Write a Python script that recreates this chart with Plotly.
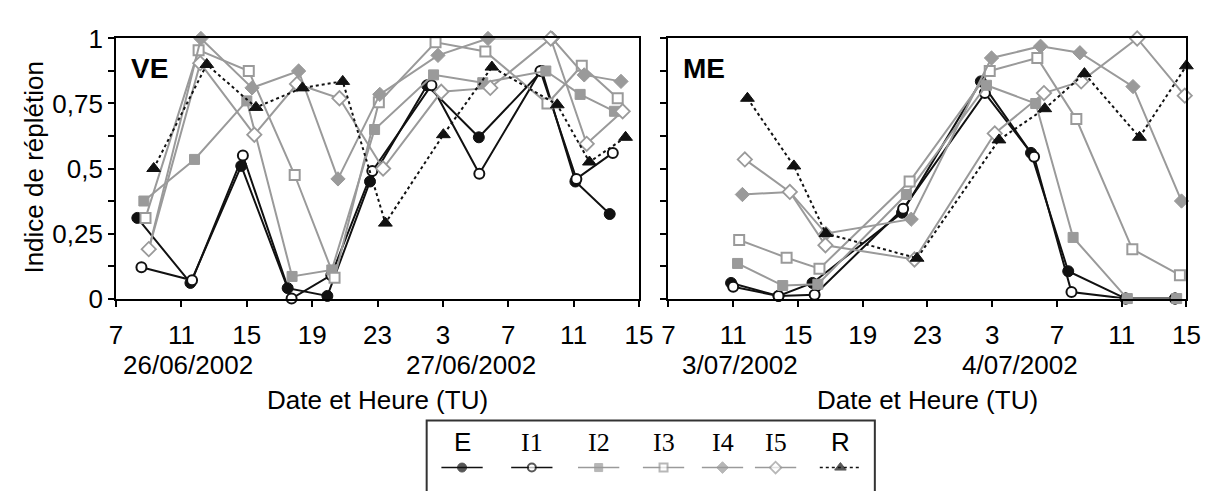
import plotly.graph_objects as go

# ---- Data: hours since 00:00 of the first day (7 -> 39 = 15h next day) ----
series_names = ["E", "I1", "I2", "I3", "I4", "I5", "R"]

# Panel VE (26-27/06/2002)
ve_E_t = [8.3, 11.55, 14.66, 17.5, 19.93, 22.54, 26.03, 29.2, 33.06, 35.11, 37.21]
ve_E_v = [0.31, 0.06, 0.51, 0.04, 0.01, 0.45, 0.82, 0.62, 0.875, 0.45, 0.325]
ve_I1_t = [8.55, 11.65, 14.76, 17.74, 20.17, 22.68, 26.3, 29.23, 32.97, 35.17, 37.4]
ve_I1_v = [0.12, 0.07, 0.55, 0.0, 0.09, 0.49, 0.82, 0.48, 0.875, 0.46, 0.56]
ve_I2_t = [8.7, 11.8, 15.0, 17.77, 20.2, 22.82, 26.43, 29.44, 33.3, 35.4, 37.5]
ve_I2_v = [0.375, 0.535, 0.76, 0.085, 0.11, 0.65, 0.86, 0.83, 0.875, 0.785, 0.72]
ve_I3_t = [8.8, 12.05, 15.12, 17.93, 20.37, 23.08, 26.55, 29.6, 33.4, 35.5, 37.7]
ve_I3_v = [0.31, 0.955, 0.875, 0.475, 0.08, 0.755, 0.985, 0.95, 0.75, 0.895, 0.77]
ve_I4_t = [9.0, 12.19, 15.32, 18.17, 20.58, 23.14, 26.7, 29.76, 33.7, 35.65, 37.9]
ve_I4_v = [0.19, 1.0, 0.81, 0.875, 0.46, 0.785, 0.935, 1.0, 1.0, 0.86, 0.835]
ve_I5_t = [9.0, 12.15, 15.46, 18.07, 20.67, 23.34, 26.9, 29.9, 33.6, 35.8, 38.0]
ve_I5_v = [0.19, 0.905, 0.63, 0.825, 0.77, 0.50, 0.795, 0.81, 1.0, 0.595, 0.72]
ve_R_t = [9.3, 12.55, 15.56, 18.4, 20.87, 23.48, 27.03, 30.0, 34.0, 35.97, 38.18]
ve_R_v = [0.50, 0.90, 0.735, 0.81, 0.835, 0.29, 0.63, 0.89, 0.745, 0.525, 0.62]

# Panel ME (3-4/07/2002)
me_E_t = [10.87, 13.8, 15.9, 21.43, 26.3, 29.4, 31.7, 35.25, 38.3]
me_E_v = [0.06, 0.01, 0.06, 0.33, 0.835, 0.56, 0.105, 0.0, 0.0]
me_I1_t = [11.0, 13.8, 16.03, 21.5, 26.55, 29.59, 31.9, 35.25, 38.3]
me_I1_v = [0.045, 0.01, 0.015, 0.345, 0.79, 0.545, 0.025, 0.0, 0.0]
me_I2_t = [11.27, 14.06, 16.23, 21.7, 26.65, 29.69, 32.0, 35.35, 38.4]
me_I2_v = [0.135, 0.05, 0.055, 0.40, 0.82, 0.75, 0.235, 0.0, 0.0]
me_I3_t = [11.37, 14.3, 16.33, 21.9, 26.85, 29.79, 32.2, 35.66, 38.6]
me_I3_v = [0.225, 0.157, 0.115, 0.45, 0.875, 0.925, 0.69, 0.19, 0.09]
me_I4_t = [11.57, 14.5, 16.73, 22.0, 26.96, 29.99, 32.42, 35.7, 38.7]
me_I4_v = [0.40, 0.41, 0.25, 0.305, 0.925, 0.97, 0.945, 0.815, 0.375]
me_I5_t = [11.72, 14.5, 16.7, 22.2, 27.16, 30.2, 32.5, 35.96, 38.9]
me_I5_v = [0.535, 0.41, 0.205, 0.15, 0.635, 0.79, 0.835, 1.0, 0.78]
me_R_t = [11.88, 14.75, 16.73, 22.36, 27.42, 30.25, 32.7, 36.1, 39.0]
me_R_v = [0.77, 0.51, 0.25, 0.155, 0.61, 0.73, 0.865, 0.62, 0.895]

x_tickvals = [7, 11, 15, 19, 23, 27, 31, 35, 39]
x_ticktext = ["7", "11", "15", "19", "23", "3", "7", "11", "15"]
y_tickvals = [0, 0.25, 0.5, 0.75, 1]
y_ticktext = ["0", "0,25", "0,5", "0,75", "1"]
ve_dates = ["26/06/2002", "27/06/2002"]
me_dates = ["3/07/2002", "4/07/2002"]
date_pos = [11.4, 28.7]

# ---- Styles ----
W, H = 1223, 491
BLACK = "#111111"
GRAY = "#9a9a9a"
FONT = "Liberation Sans, Arial, sans-serif"
SERIF = "Liberation Serif, Times New Roman, serif"

styles = {
    "E": dict(line=dict(color=BLACK, width=2),
              marker=dict(symbol="circle", size=11, color=BLACK, line=dict(color=BLACK, width=1))),
    "I1": dict(line=dict(color=BLACK, width=2),
               marker=dict(symbol="circle", size=10, color="white", line=dict(color=BLACK, width=2))),
    "I2": dict(line=dict(color=GRAY, width=2),
               marker=dict(symbol="square", size=10, color=GRAY, line=dict(color=GRAY, width=1))),
    "I3": dict(line=dict(color=GRAY, width=2),
               marker=dict(symbol="square", size=10, color="white", line=dict(color=GRAY, width=2))),
    "I4": dict(line=dict(color=GRAY, width=2),
               marker=dict(symbol="diamond", size=11, color=GRAY, line=dict(color=GRAY, width=1))),
    "I5": dict(line=dict(color=GRAY, width=2),
               marker=dict(symbol="diamond", size=11, color="white", line=dict(color=GRAY, width=1.8))),
    "R": dict(line=dict(color=BLACK, width=2, dash="dot"),
              marker=dict(symbol="triangle-up", size=12, color=BLACK, line=dict(color=BLACK, width=1))),
}

panels = {
    ("x", "y"): {
        "E": (ve_E_t, ve_E_v), "I1": (ve_I1_t, ve_I1_v), "I2": (ve_I2_t, ve_I2_v),
        "I3": (ve_I3_t, ve_I3_v), "I4": (ve_I4_t, ve_I4_v), "I5": (ve_I5_t, ve_I5_v),
        "R": (ve_R_t, ve_R_v),
    },
    ("x2", "y2"): {
        "E": (me_E_t, me_E_v), "I1": (me_I1_t, me_I1_v), "I2": (me_I2_t, me_I2_v),
        "I3": (me_I3_t, me_I3_v), "I4": (me_I4_t, me_I4_v), "I5": (me_I5_t, me_I5_v),
        "R": (me_R_t, me_R_v),
    },
}

fig = go.Figure()
for (xa, ya), data in panels.items():
    for name in series_names:
        t, v = data[name]
        st = styles[name]
        fig.add_trace(go.Scatter(
            x=t, y=v, mode="lines+markers", name=name, xaxis=xa, yaxis=ya,
            line=st["line"], marker=st["marker"], cliponaxis=False, showlegend=False,
        ))

# ---- Custom legend (box with label above each line sample) ----
leg_cx = [463, 534, 602, 668, 728, 782, 848]
leg_half = 21
leg_line_y = 482
leg_label_y = 455
for name, cx in zip(series_names, leg_cx):
    st = styles[name]
    m = dict(st["marker"])
    m["size"] = [0, max(m["size"] - 2, 8), 0]
    fig.add_trace(go.Scatter(
        x=[cx - leg_half, cx, cx + leg_half], y=[leg_line_y] * 3,
        mode="lines+markers", xaxis="x3", yaxis="y3",
        line=dict(color=st["line"]["color"], width=1.6, dash=st["line"].get("dash", "solid")),
        marker=m, cliponaxis=False, showlegend=False, hoverinfo="skip",
    ))
    fig.add_annotation(
        x=cx, y=leg_label_y, xref="x3", yref="y3", text=name, showarrow=False,
        font=dict(family=FONT if name in ("E", "R") else SERIF, size=26, color="black"),
        xanchor="center", yanchor="middle",
    )

fig.add_shape(type="rect", xref="paper", yref="paper",
              x0=427 / W, x1=883 / W, y0=-0.1, y1=1 - 432 / H,
              line=dict(color="#333333", width=2), fillcolor="rgba(0,0,0,0)")

# ---- Axes ----
plot_top, plot_bot = 25, 302
ydom = [1 - plot_bot / H, 1 - plot_top / H]
xdom_left = [111 / W, 643 / W]
xdom_right = [673 / W, 1200 / W]

xaxis_common = dict(
    range=[7, 39], tickmode="array", tickvals=x_tickvals, ticktext=x_ticktext,
    ticks="outside", ticklen=6, tickwidth=1.5, tickcolor="black",
    showline=True, linecolor="black", linewidth=2, mirror=True,
    showgrid=False, zeroline=False, ticklabelstandoff=6,
    tickfont=dict(family=FONT, size=26, color="black"), fixedrange=True,
)
yaxis_common = dict(
    range=[0, 1], tickmode="array", tickvals=y_tickvals, ticktext=y_ticktext,
    ticks="outside", ticklen=6, tickwidth=1.5, tickcolor="black",
    minor=dict(tickmode="linear", tick0=0, dtick=0.125, ticks="outside",
               ticklen=6, tickwidth=1.5, tickcolor="black", showgrid=False),
    showline=True, linecolor="black", linewidth=2, mirror=True,
    showgrid=False, zeroline=False,
    tickfont=dict(family=FONT, size=26, color="black"), fixedrange=True,
)

fig.update_layout(
    width=W, height=H, margin=dict(l=0, r=0, t=0, b=0),
    paper_bgcolor="white", plot_bgcolor="rgba(0,0,0,0)",
    xaxis=dict(xaxis_common, domain=xdom_left, anchor="y"),
    yaxis=dict(yaxis_common, domain=ydom, anchor="x"),
    xaxis2=dict(xaxis_common, domain=xdom_right, anchor="y2"),
    yaxis2=dict(yaxis_common, domain=ydom, anchor="x2", showticklabels=False),
    xaxis3=dict(domain=[0, 1], range=[0, W], visible=False, fixedrange=True, anchor="y3"),
    yaxis3=dict(domain=[0, 1], range=[H, 0], visible=False, fixedrange=True, anchor="x3"),
    showlegend=False,
)

# ---- Text: panel tags, dates, axis titles ----
for xref, tag, dates in (("x", "VE", ve_dates), ("x2", "ME", me_dates)):
    fig.add_annotation(x=7.8, y=0.885, xref=xref, yref="y" if xref == "x" else "y2",
                       text=f"<b>{tag}</b>", showarrow=False, xanchor="left", yanchor="middle",
                       font=dict(family=FONT, size=28, color="black"))
    for d, pos in zip(dates, date_pos):
        fig.add_annotation(x=pos, y=1 - 373 / H, xref=xref, yref="paper", text=d,
                           showarrow=False, xanchor="center", yanchor="middle",
                           font=dict(family=FONT, size=26, color="black"))
    fig.add_annotation(x=23, y=1 - 410 / H, xref=xref, yref="paper",
                       text="Date et Heure (TU)", showarrow=False,
                       xanchor="center", yanchor="middle",
                       font=dict(family=FONT, size=26, color="black"))

fig.add_annotation(x=28 / W, y=1 - 163 / H, xref="paper", yref="paper",
                   text="Indice de réplétion", textangle=-90, showarrow=False,
                   xanchor="center", yanchor="middle",
                   font=dict(family=FONT, size=26, color="black"))

fig.write_html("out.html")
